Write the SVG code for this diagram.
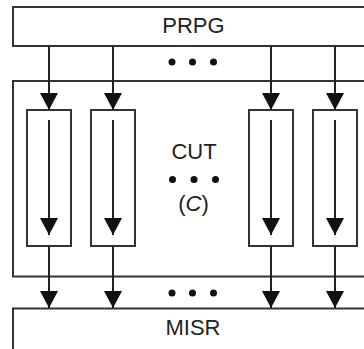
<svg xmlns="http://www.w3.org/2000/svg" width="364" height="349" viewBox="0 0 364 349">
<style>
.box{fill:#fff;stroke:#333;stroke-width:2}
.ln{stroke:#222;stroke-width:2;fill:none;marker-end:url(#ah)}
.t{font-family:"Liberation Sans",Arial,sans-serif;font-size:22px;fill:#222;text-anchor:middle}
.dot{fill:#111}
</style>
<defs>
<marker id="ah" viewBox="0 0 17 18" refX="17" refY="9" markerWidth="17" markerHeight="18" markerUnits="userSpaceOnUse" orient="auto">
<path d="M0,0 L17,9 L0,18 z" fill="#111"/>
</marker>
</defs>
<rect width="364" height="349" fill="#fff"/>
<g id="prpg">
<rect class="box" x="13" y="7" width="380" height="39"/>
<text class="t" x="193.5" y="33">PRPG</text>
</g>
<g id="cut">
<rect class="box" x="13" y="81" width="380" height="195.5"/>
<text class="t" x="194" y="159">CUT</text>
<circle class="dot" cx="172.5" cy="179.5" r="3.5"/>
<circle class="dot" cx="194" cy="179.5" r="3.5"/>
<circle class="dot" cx="215.5" cy="179.5" r="3.5"/>
<text class="t" x="193.5" y="211">(<tspan font-style="italic">C</tspan>)</text>
</g>
<g id="chain1"><rect class="box" x="27" y="110" width="44" height="136"/></g>
<g id="chain2"><rect class="box" x="91" y="110" width="44" height="136"/></g>
<g id="chain3"><rect class="box" x="249" y="110" width="44" height="136"/></g>
<g id="chain4"><rect class="box" x="313" y="110" width="44" height="136"/></g>
<g id="misr">
<rect class="box" x="13" y="308.5" width="380" height="60"/>
<text class="t" x="193" y="335">MISR</text>
</g>
<g id="dots">
<circle class="dot" cx="172" cy="62" r="3.5"/>
<circle class="dot" cx="192.5" cy="62" r="3.5"/>
<circle class="dot" cx="213.5" cy="62" r="3.5"/>
<circle class="dot" cx="172" cy="293" r="3.5"/>
<circle class="dot" cx="192.5" cy="293" r="3.5"/>
<circle class="dot" cx="213.5" cy="293" r="3.5"/>
</g>
<g id="connectors">
<path class="ln" d="M49,46 V110"/>
<path class="ln" d="M113,46 V110"/>
<path class="ln" d="M271,46 V110"/>
<path class="ln" d="M335,46 V110"/>
<path class="ln" d="M49,120 V235"/>
<path class="ln" d="M113,120 V235"/>
<path class="ln" d="M271,120 V235"/>
<path class="ln" d="M335,120 V235"/>
<path class="ln" d="M49,246 V308"/>
<path class="ln" d="M113,246 V308"/>
<path class="ln" d="M271,246 V308"/>
<path class="ln" d="M335,246 V308"/>
</g>
</svg>
